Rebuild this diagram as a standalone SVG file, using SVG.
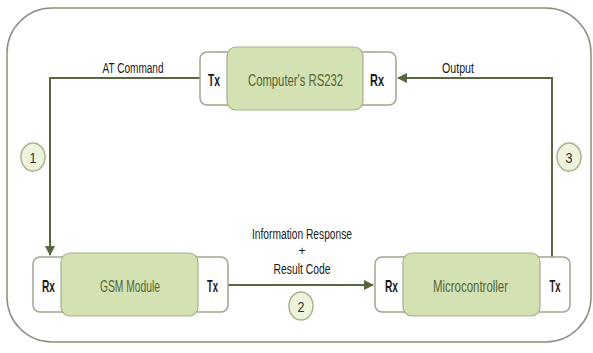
<svg xmlns="http://www.w3.org/2000/svg" width="593" height="353" viewBox="0 0 593 353">
<style>
.frame{fill:#fff;stroke:#8a8f80;stroke-width:1.5}
.port{fill:#fff;stroke:#9ea590;stroke-width:1.5}
.core{fill:#d3e1b3;stroke:#a3b388;stroke-width:1.2}
.pt{font-family:"Liberation Sans",sans-serif;font-size:17px;fill:#1a1a1a;text-anchor:middle;font-weight:bold}
.nt{font-family:"Liberation Sans",sans-serif;font-size:16.5px;fill:#566636;text-anchor:middle}
.lb{font-family:"Liberation Sans",sans-serif;font-size:15.5px;fill:#1a1a1a;text-anchor:middle}
.ln{fill:none;stroke:#5a6640;stroke-width:2}
.num{fill:#eef3dd;stroke:#a8b48c;stroke-width:1.5}
.nn{font-family:"Liberation Sans",sans-serif;font-size:15px;fill:#333;text-anchor:middle}
</style>
<defs>
<marker id="ah" viewBox="0 0 10 10" refX="9" refY="5" markerWidth="5" markerHeight="5" orient="auto" markerUnits="strokeWidth">
<path d="M0,0 L10,5 L0,10 z" fill="#5a6640"/>
</marker>
</defs>
<rect class="frame" x="7" y="8" width="584" height="334" rx="45" ry="45"/>
<g id="connectors">
<polyline class="ln" points="200,78 50,78 50,255" marker-end="url(#ah)"/>
<polyline class="ln" points="228,285 373,285" marker-end="url(#ah)"/>
<polyline class="ln" points="552,257 552,78 398,78" marker-end="url(#ah)"/>
<text class="lb" x="133" y="73" textLength="61" lengthAdjust="spacingAndGlyphs">AT Command</text>
<text class="lb" x="458" y="73" textLength="32" lengthAdjust="spacingAndGlyphs">Output</text>
<text class="lb" x="302" y="239" textLength="100" lengthAdjust="spacingAndGlyphs">Information Response</text>
<text class="lb" x="302" y="255" style="font-size:12px">+</text>
<text class="lb" x="302" y="274" textLength="57" lengthAdjust="spacingAndGlyphs">Result Code</text>
<ellipse class="num" cx="33" cy="157" rx="12" ry="14"/>
<text class="nn" x="33" y="163" textLength="7" lengthAdjust="spacingAndGlyphs">1</text>
<ellipse class="num" cx="301" cy="306" rx="12" ry="14"/>
<text class="nn" x="301" y="312" textLength="7" lengthAdjust="spacingAndGlyphs">2</text>
<ellipse class="num" cx="569" cy="157" rx="12" ry="14"/>
<text class="nn" x="569" y="163" textLength="7" lengthAdjust="spacingAndGlyphs">3</text>
</g>
<g id="computer">
<rect class="port" x="200" y="52" width="196" height="53" rx="7"/>
<rect class="core" x="227" y="47" width="136" height="63" rx="9"/>
<text class="pt" x="214" y="86" textLength="12" lengthAdjust="spacingAndGlyphs">Tx</text>
<text class="nt" x="295.5" y="86" textLength="95" lengthAdjust="spacingAndGlyphs">Computer's RS232</text>
<text class="pt" x="377" y="86" textLength="14" lengthAdjust="spacingAndGlyphs">Rx</text>
</g>
<g id="gsm">
<rect class="port" x="33" y="257" width="195" height="55" rx="7"/>
<rect class="core" x="61" y="253" width="137" height="63" rx="9"/>
<text class="pt" x="48.5" y="292" textLength="13" lengthAdjust="spacingAndGlyphs">Rx</text>
<text class="nt" x="130" y="292" textLength="60" lengthAdjust="spacingAndGlyphs">GSM Module</text>
<text class="pt" x="212.5" y="292" textLength="11" lengthAdjust="spacingAndGlyphs">Tx</text>
</g>
<g id="micro">
<rect class="port" x="375" y="257" width="195" height="55" rx="7"/>
<rect class="core" x="403" y="253" width="137" height="63" rx="9"/>
<text class="pt" x="391.5" y="292" textLength="13" lengthAdjust="spacingAndGlyphs">Rx</text>
<text class="nt" x="470.5" y="292" textLength="75" lengthAdjust="spacingAndGlyphs">Microcontroller</text>
<text class="pt" x="555" y="292" textLength="11" lengthAdjust="spacingAndGlyphs">Tx</text>
</g>
</svg>
